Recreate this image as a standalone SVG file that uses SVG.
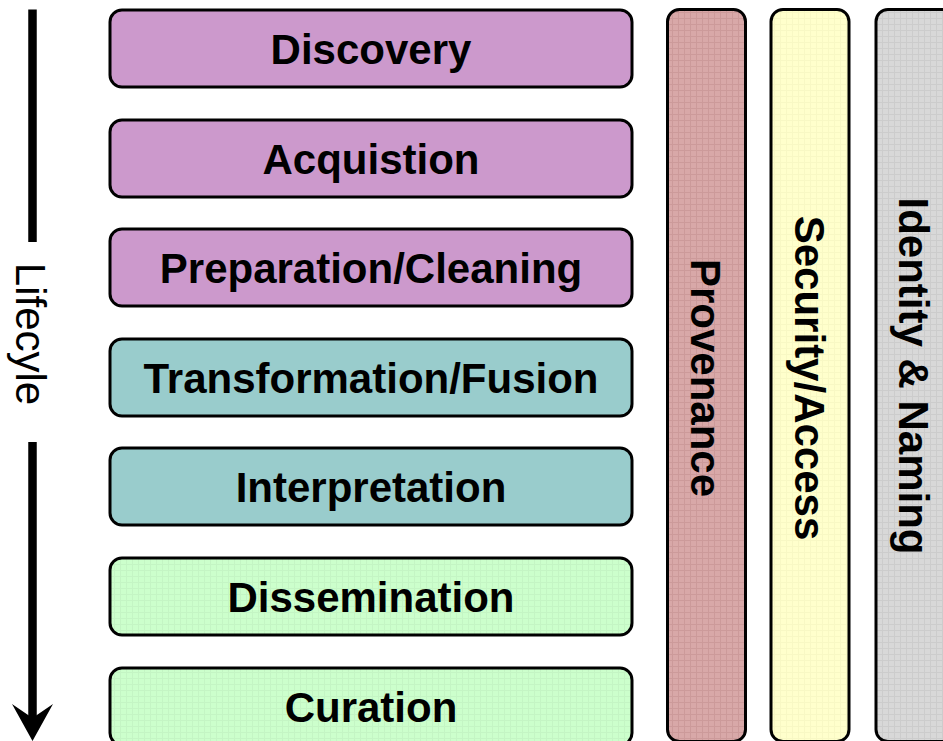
<svg xmlns="http://www.w3.org/2000/svg" width="943" height="741" viewBox="0 0 943 741">
  <defs>
    <style>
      .box { stroke: #000; stroke-width: 3; }
      .lbl { font-family: "Liberation Sans", Arial, sans-serif; font-weight: bold; font-size: 42px; text-anchor: middle; fill: #000; }
      .side { font-family: "Liberation Sans", Arial, sans-serif; font-size: 42px; text-anchor: middle; fill: #000; }
      .purple { fill: #CC99CC; }
      .teal { fill: #99CCCC; }
      .green { fill: url(#pGreen); }
      .rose { fill: url(#pRose); }
      .yellow { fill: url(#pYellow); }
      .gray { fill: url(#pGray); }
    </style>
    <pattern id="pGreen" width="6" height="6" patternUnits="userSpaceOnUse">
      <rect width="6" height="6" fill="#CCFFCC"/>
      <path d="M0,0.5H6M0.5,0V6" stroke="#C4F5C4" stroke-width="1"/>
    </pattern>
    <pattern id="pRose" width="6" height="6" patternUnits="userSpaceOnUse">
      <rect width="6" height="6" fill="#D8A8A8"/>
      <path d="M0,0.5H6M0.5,0V6" stroke="#CC9A9A" stroke-width="1"/>
    </pattern>
    <pattern id="pYellow" width="6" height="6" patternUnits="userSpaceOnUse">
      <rect width="6" height="6" fill="#FFFFCC"/>
      <path d="M0,0.5H6M0.5,0V6" stroke="#F8F8C4" stroke-width="1"/>
    </pattern>
    <pattern id="pGray" width="6" height="6" patternUnits="userSpaceOnUse">
      <rect width="6" height="6" fill="#D8D8D8"/>
      <path d="M0,0.5H6M0.5,0V6" stroke="#CCCCCC" stroke-width="1"/>
    </pattern>
  </defs>
  <rect width="943" height="741" fill="#FFFFFF"/>

  <g id="connectors">
    <line x1="32.5" y1="9.5" x2="32.5" y2="242" stroke="#000" stroke-width="8.5"/>
    <line x1="32.5" y1="442" x2="32.5" y2="722" stroke="#000" stroke-width="8.5"/>
    <path d="M32.5,741 L12,704 L32.5,718 L53,704 Z" fill="#000"/>
  </g>

  <g id="lifecycle-label">
    <text class="side" transform="translate(16,334) rotate(90)" x="0" y="0">Lifecyle</text>
  </g>

  <g id="discovery">
    <rect class="box purple" x="110" y="10" width="522" height="77" rx="12"/>
    <text class="lbl" x="371" y="64">Discovery</text>
  </g>
  <g id="acquisition">
    <rect class="box purple" x="110" y="120" width="522" height="77" rx="12"/>
    <text class="lbl" x="371" y="174">Acquistion</text>
  </g>
  <g id="preparation">
    <rect class="box purple" x="110" y="229" width="522" height="77" rx="12"/>
    <text class="lbl" x="371" y="283">Preparation/Cleaning</text>
  </g>
  <g id="transformation">
    <rect class="box teal" x="110" y="339" width="522" height="77" rx="12"/>
    <text class="lbl" x="371" y="393">Transformation/Fusion</text>
  </g>
  <g id="interpretation">
    <rect class="box teal" x="110" y="448" width="522" height="77" rx="12"/>
    <text class="lbl" x="371" y="502">Interpretation</text>
  </g>
  <g id="dissemination">
    <rect class="box green" x="110" y="558" width="522" height="77" rx="12"/>
    <text class="lbl" x="371" y="612">Dissemination</text>
  </g>
  <g id="curation">
    <rect class="box green" x="110" y="668" width="522" height="77" rx="12"/>
    <text class="lbl" x="371" y="722">Curation</text>
  </g>

  <g id="provenance">
    <rect class="box rose" x="667.5" y="9.5" width="78" height="732" rx="12"/>
    <text class="lbl" transform="translate(706,378) rotate(90)" x="0" y="15">Provenance</text>
  </g>
  <g id="security">
    <rect class="box yellow" x="771" y="9.5" width="78" height="732" rx="12"/>
    <text class="lbl" transform="translate(810,378) rotate(90)" x="0" y="15">Security/Access</text>
  </g>
  <g id="identity">
    <rect class="box gray" x="876" y="9.5" width="78" height="732" rx="12"/>
    <text class="lbl" transform="translate(914,376) rotate(90)" x="0" y="15">Identity &amp; Naming</text>
  </g>
</svg>
